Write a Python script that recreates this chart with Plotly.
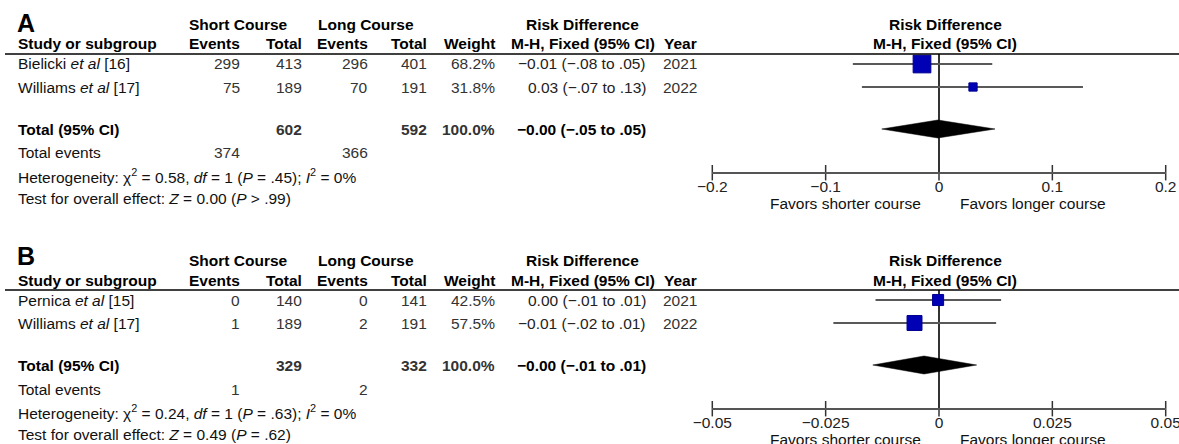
import plotly.graph_objects as go

W, H = 1179, 444

# ---------------- data ----------------
# Panel A
a_studies = ["Bielicki <i>et al</i> [16]", "Williams <i>et al</i> [17]"]
a_short_events = [299, 75]
a_short_total = [413, 189]
a_long_events = [296, 70]
a_long_total = [401, 191]
a_weight = [68.2, 31.8]
a_rd_text = ["−0.01 (−.08 to .05)", "0.03 (−.07 to .13)"]
a_rd = [-0.015, 0.030]
a_ci_lo = [-0.076, -0.068]
a_ci_hi = [0.047, 0.127]
a_year = ["2021", "2022"]
a_total_rd = -0.001
a_total_lo = -0.0505
a_total_hi = 0.0494
a_total_text = "−0.00 (−.05 to .05)"
a_het = "Heterogeneity: χ<sup>2</sup> = 0.58, <i>df</i> = 1 (<i>P</i> = .45); <i>I</i><sup>2</sup> = 0%"
a_test = "Test for overall effect: <i>Z</i> = 0.00 (<i>P</i> &gt; .99)"
a_ticks = [-0.2, -0.1, 0, 0.1, 0.2]
a_ticktext = ["−0.2", "−0.1", "0", "0.1", "0.2"]

# Panel B
b_studies = ["Pernica <i>et al</i> [15]", "Williams <i>et al</i> [17]"]
b_short_events = [0, 1]
b_short_total = [140, 189]
b_long_events = [0, 2]
b_long_total = [141, 191]
b_weight = [42.5, 57.5]
b_rd_text = ["0.00 (−.01 to .01)", "−0.01 (−.02 to .01)"]
b_rd = [-0.0002, -0.0054]
b_ci_lo = [-0.0140, -0.0233]
b_ci_hi = [0.0137, 0.0126]
b_year = ["2021", "2022"]
b_total_rd = -0.0033
b_total_lo = -0.0146
b_total_hi = 0.0083
b_total_text = "−0.00 (−.01 to .01)"
b_het = "Heterogeneity: χ<sup>2</sup> = 0.24, <i>df</i> = 1 (<i>P</i> = .63); <i>I</i><sup>2</sup> = 0%"
b_test = "Test for overall effect: <i>Z</i> = 0.49 (<i>P</i> = .62)"
b_ticks = [-0.05, -0.025, 0, 0.025, 0.05]
b_ticktext = ["−0.05", "−0.025", "0", "0.025", "0.05"]

panels = [
    dict(letter="A", studies=a_studies, se=a_short_events, st=a_short_total,
         le=a_long_events, lt=a_long_total, w=a_weight, rdt=a_rd_text, rd=a_rd,
         lo=a_ci_lo, hi=a_ci_hi, year=a_year, trd=a_total_rd, tlo=a_total_lo,
         thi=a_total_hi, ttext=a_total_text, het=a_het, test=a_test,
         ticks=a_ticks, ticktext=a_ticktext),
    dict(letter="B", studies=b_studies, se=b_short_events, st=b_short_total,
         le=b_long_events, lt=b_long_total, w=b_weight, rdt=b_rd_text, rd=b_rd,
         lo=b_ci_lo, hi=b_ci_hi, year=b_year, trd=b_total_rd, tlo=b_total_lo,
         thi=b_total_hi, ttext=b_total_text, het=b_het, test=b_test,
         ticks=b_ticks, ticktext=b_ticktext),
]

# ---------------- layout constants (pixels) ----------------
FONT = "Liberation Sans, Arial, sans-serif"
FS = 15.5
PANEL_OFF = [0, 236]
PANEL_SPAN = [(0, 222), (222, 444)]
Y_LETTER = [23, 20]
Y_H1, Y_H2, Y_LINE = 24, 44, 54
Y_ROW0, ROW_H = 64, 23
Y_TOTAL, Y_EVENTS, Y_HET, Y_TEST = 129, 153, 176, 198
Y_AXIS, Y_FAVORS = 172.7, 203
X_LEFT = 17
X_SE, X_ST, X_LE, X_LT, X_W, X_RD, X_YR = 241, 303, 369, 428, 496, 647, 662
X_SHORT_HDR, X_LONG_HDR, X_RD_HDR = 238, 366, 582
X_FOREST = (712.3, 1165.7)
X_FOREST_HDR = 945
MARKER_SCALE = 0.26
DIAMOND_HALF = 9
BLUE = "#0000b4"

fig = go.Figure()
annotations = []
shapes = []


def txt(x, y, s, anchor="left", bold=False, size=FS, color="#111"):
    if bold:
        s = "<b>" + s + "</b>"
    annotations.append(dict(
        x=x / W, y=1 - y / H, xref="paper", yref="paper", text=s,
        showarrow=False, xanchor=anchor, yanchor="middle",
        font=dict(family=FONT, size=size, color=color), borderpad=0))


for i, p in enumerate(panels):
    off = PANEL_OFF[i]
    xa = "x" if i == 0 else "x%d" % (i + 1)
    ya = "y" if i == 0 else "y%d" % (i + 1)
    xkey = "xaxis" if i == 0 else "xaxis%d" % (i + 1)
    ykey = "yaxis" if i == 0 else "yaxis%d" % (i + 1)

    # --- table headers ---
    txt(X_LEFT - 1, off + Y_LETTER[i], p["letter"], bold=True, size=25, color="#000")
    txt(X_SHORT_HDR, off + Y_H1, "Short Course", anchor="center", bold=True, color="#000")
    txt(X_LONG_HDR, off + Y_H1, "Long Course", anchor="center", bold=True, color="#000")
    txt(X_RD_HDR, off + Y_H1, "Risk Difference", anchor="center", bold=True, color="#000")
    txt(X_FOREST_HDR, off + Y_H1, "Risk Difference", anchor="center", bold=True, color="#000")
    txt(X_LEFT, off + Y_H2, "Study or subgroup", bold=True, color="#000")
    txt(X_SE, off + Y_H2, "Events", anchor="right", bold=True, color="#000")
    txt(X_ST, off + Y_H2, "Total", anchor="right", bold=True, color="#000")
    txt(X_LE, off + Y_H2, "Events", anchor="right", bold=True, color="#000")
    txt(X_LT, off + Y_H2, "Total", anchor="right", bold=True, color="#000")
    txt(X_W, off + Y_H2, "Weight", anchor="right", bold=True, color="#000")
    txt(X_RD + 9, off + Y_H2, "M-H, Fixed (95% CI)", anchor="right", bold=True, color="#000")
    txt(X_YR + 1, off + Y_H2, "Year", bold=True, color="#000")
    txt(X_FOREST_HDR, off + Y_H2, "M-H, Fixed (95% CI)", anchor="center", bold=True, color="#000")

    shapes.append(dict(type="line", xref="paper", yref="paper",
                       x0=5 / W, x1=1, y0=1 - (off + Y_LINE) / H, y1=1 - (off + Y_LINE) / H,
                       line=dict(color="#000", width=1.6)))

    # --- study rows ---
    row_y = [Y_ROW0 + k * ROW_H for k in range(len(p["studies"]))]
    for k, name in enumerate(p["studies"]):
        yy = off + row_y[k]
        txt(X_LEFT, yy, name)
        txt(X_SE, yy, str(p["se"][k]), anchor="right", color="#333")
        txt(X_ST, yy, str(p["st"][k]), anchor="right", color="#333")
        txt(X_LE, yy, str(p["le"][k]), anchor="right", color="#333")
        txt(X_LT, yy, str(p["lt"][k]), anchor="right", color="#333")
        txt(X_W, yy, "%.1f%%" % p["w"][k], anchor="right", color="#333")
        txt(X_RD, yy, p["rdt"][k], anchor="right", color="#222")
        txt(X_YR, yy, p["year"][k], color="#333")

    # --- totals ---
    txt(X_LEFT, off + Y_TOTAL, "Total (95% CI)", bold=True, color="#000")
    txt(X_ST, off + Y_TOTAL, str(sum(p["st"])), anchor="right", bold=True, color="#333")
    txt(X_LT, off + Y_TOTAL, str(sum(p["lt"])), anchor="right", bold=True, color="#333")
    txt(X_W, off + Y_TOTAL, "%.1f%%" % sum(p["w"]), anchor="right", bold=True, color="#333")
    txt(X_RD, off + Y_TOTAL, p["ttext"], anchor="right", bold=True, color="#000")
    txt(X_LEFT, off + Y_EVENTS, "Total events")
    txt(X_SE, off + Y_EVENTS, str(sum(p["se"])), anchor="right", color="#333")
    txt(X_LE, off + Y_EVENTS, str(sum(p["le"])), anchor="right", color="#333")
    txt(X_LEFT, off + Y_HET, p["het"])
    txt(X_LEFT, off + Y_TEST, p["test"])

    # --- forest plot ---
    lx, ly = [], []
    for k in range(len(p["rd"])):
        lx += [p["lo"][k], p["hi"][k], None]
        ly += [row_y[k], row_y[k], None]
    fig.add_trace(go.Scatter(x=lx, y=ly, mode="lines", xaxis=xa, yaxis=ya,
                             line=dict(color="#595959", width=2), hoverinfo="skip"))
    fig.add_trace(go.Scatter(
        x=p["rd"], y=row_y, mode="markers", xaxis=xa, yaxis=ya,
        marker=dict(symbol="square", color=BLUE, opacity=1,
                    size=[MARKER_SCALE * w for w in p["w"]],
                    line=dict(color="#000090", width=1)),
        hoverinfo="skip"))
    yt = Y_TOTAL
    fig.add_trace(go.Scatter(
        x=[p["tlo"], p["trd"], p["thi"], p["trd"], p["tlo"]],
        y=[yt, yt - DIAMOND_HALF, yt, yt + DIAMOND_HALF, yt],
        mode="lines", fill="toself", fillcolor="#000", xaxis=xa, yaxis=ya,
        line=dict(color="#000", width=0.5), hoverinfo="skip"))
    # tick marks crossing the axis line
    fig.add_trace(go.Scatter(
        x=p["ticks"], y=[Y_AXIS] * len(p["ticks"]), mode="markers", xaxis=xa, yaxis=ya,
        marker=dict(symbol="line-ns", size=11, line=dict(color="#333", width=1.5)),
        cliponaxis=False, hoverinfo="skip"))

    shapes.append(dict(type="line", xref=xa, yref=ya, x0=0, x1=0, y0=Y_LINE, y1=Y_AXIS,
                       line=dict(color="#000", width=1.6), layer="below"))

    annotations.append(dict(x=0, y=1 - (off + Y_FAVORS) / H, xref=xa, yref="paper",
                            text="Favors shorter course", showarrow=False, xanchor="right",
                            yanchor="middle", xshift=-16,
                            font=dict(family=FONT, size=FS, color="#111")))
    annotations.append(dict(x=0, y=1 - (off + Y_FAVORS) / H, xref=xa, yref="paper",
                            text="Favors longer course", showarrow=False, xanchor="left",
                            yanchor="middle", xshift=19,
                            font=dict(family=FONT, size=FS, color="#111")))

    span = PANEL_SPAN[i]
    fig.update_layout(**{
        xkey: dict(domain=[X_FOREST[0] / W, X_FOREST[1] / W],
                   range=[p["ticks"][0], p["ticks"][-1]],
                   anchor="free", position=1 - (off + Y_AXIS) / H,
                   automargin=False, ticklabeloverflow="allow",
                   showgrid=False, zeroline=False, showline=True,
                   linecolor="#555", linewidth=2,
                   ticks="", tickvals=p["ticks"], ticktext=p["ticktext"],
                   tickfont=dict(family=FONT, size=FS, color="#222")),
        ykey: dict(domain=[1 - span[1] / H, 1 - span[0] / H],
                   range=[span[1] - off, span[0] - off],
                   visible=False, showgrid=False, zeroline=False,
                   automargin=False, anchor=xa),
    })

fig.update_layout(
    width=W, height=H, autosize=False,
    margin=dict(l=0, r=0, t=0, b=0, autoexpand=False),
    paper_bgcolor="white", plot_bgcolor="rgba(0,0,0,0)",
    showlegend=False, hovermode=False,
    annotations=annotations, shapes=shapes,
)

fig.write_html("out.html", config={"displayModeBar": False},
               post_script="document.body.style.margin='0';document.body.style.overflow='hidden';")
